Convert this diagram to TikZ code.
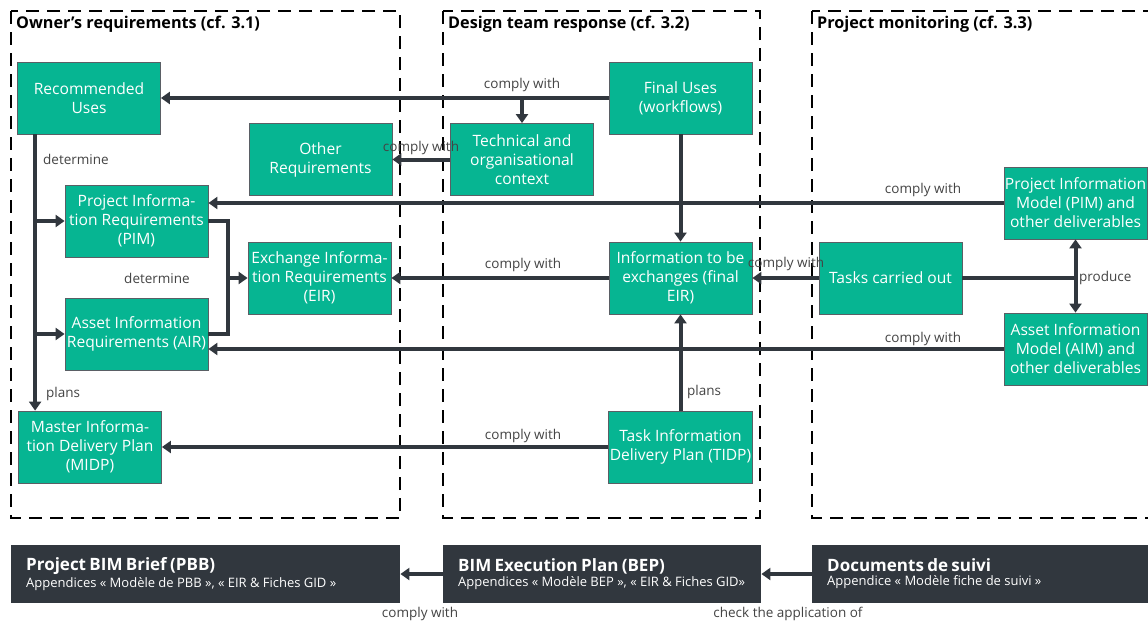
\documentclass[tikz,border=0pt]{standalone}
\usepackage{fontspec}
\setmainfont{Open Sans}
\usetikzlibrary{arrows.meta,calc}
\definecolor{gr}{HTML}{06B592}
\definecolor{dk}{HTML}{31373E}
\definecolor{lg}{HTML}{444444}
\begin{document}
\begin{tikzpicture}[x=1pt,y=-1pt,
  box/.style={draw=dk!80, fill=gr, text=white, minimum width=143pt, minimum height=72pt,
    align=center, font=\fontsize{15.6}{19}\selectfont, inner sep=1pt, line width=0.8pt},
  dbox/.style={fill=dk, text=white, minimum height=58pt, align=left, inner xsep=15pt, inner ysep=0pt, anchor=west},
  conn/.style={line width=4pt, draw=dk},
  arr/.style={conn, -{Triangle[length=9pt,width=12pt]}},
  lbl/.style={font=\fontsize{13.5}{16}\selectfont, text=lg, inner sep=1pt},
  zone/.style={draw=black, line width=2pt, dash pattern=on 13pt off 8pt},
  ztitle/.style={font=\fontsize{16.2}{18}\selectfont\bfseries, text=black, anchor=west, inner sep=0pt},
]
\clip (0,0) rectangle (1148,624);
\fill[white] (0,0) rectangle (1148,624);
% zones
\draw[zone] (11,11) rectangle (400,518);
\draw[zone] (443,11) rectangle (760,518);
\draw[zone] (812,11) rectangle (1170,518);
\node[ztitle] (t1) at (16,24) {Owner’s requirements (cf. 3.1)};
\node[ztitle] (t2) at (448,24) {Design team response (cf. 3.2)};
\node[ztitle] (t3) at (817,24) {Project monitoring (cf. 3.3)};
% green nodes
\node[box] (ru) at (89,98) {Recommended\\Uses};
\node[box] (or) at (320.5,159.5) {Other\\Requirements};
\node[box] (pir) at (136.5,221) {Project Informa-\\tion Requirements\\(PIM)};
\node[box] (eir) at (319.5,278) {Exchange Informa-\\tion Requirements\\(EIR)};
\node[box] (air) at (136.5,334) {Asset Information\\Requirements (AIR)};
\node[box] (midp) at (90,447) {Master Informa-\\tion Delivery Plan\\(MIDP)};
\node[box] (tc) at (522,159.5) {Technical and\\organisational\\context};
\node[box] (fu) at (680.5,98) {Final Uses\\(workflows)};
\node[box] (ie) at (680.5,278) {Information to be\\exchanges (final\\EIR)};
\node[box] (tidp) at (680.5,447) {Task Information\\Delivery Plan (TIDP)};
\node[box] (tasks) at (890.5,278) {Tasks carried out};
\node[box] (pimd) at (1075.5,203) {Project Information\\Model (PIM) and\\other deliverables};
\node[box] (aim) at (1075.5,349) {Asset Information\\Model (AIM) and\\other deliverables};
% connectors
\coordinate (j1) at (tc.north |- fu.west);
\draw[arr] (fu.west) -- (ru.east);
\draw[arr] (j1) -- (tc.north);
\node[lbl] (l1) at (522,85) {comply with};
\draw[arr] (tc.west) -- (or.east);
\node[lbl] (l2) at (421,148) {comply with};
\draw[arr] (fu.south) -- (ie.north);
\draw[arr] (pimd.west) -- (pimd.west -| pir.east);
\node[lbl] (l3) at (923,190) {comply with};
\draw[arr] (ie.west) -- (eir.east);
\node[lbl] (l4) at (523,265) {comply with};
\draw[arr] (tasks.west) -- (ie.east);
\node[lbl] (l5) at (786,264) {comply with};
\draw[conn] (tasks.east) -- (tasks.east -| pimd.south);
\draw[conn, {Triangle[length=9pt,width=12pt]}-{Triangle[length=9pt,width=12pt]}] (pimd.south) -- (aim.north);
\node[lbl, anchor=west] (l6) at (1078,278) {produce};
\draw[arr] (aim.west) -- (aim.west -| air.east);
\node[lbl] (l7) at (923,339) {comply with};
\draw[arr] (tidp.west) -- (midp.east);
\node[lbl] (l8) at (523,436) {comply with};
\draw[arr] (tidp.north) -- (ie.south);
\node[lbl, anchor=west] (l9) at (686,392) {plans};
% left trunk
\coordinate (tr) at ([xshift=18pt]ru.south west);
\draw[arr] (tr) -- (tr |- midp.north);
\draw[arr] (tr |- pir.west) -- (pir.west);
\draw[arr] (tr |- air.west) -- (air.west);
\node[lbl, anchor=west] (l10) at (42,159) {determine};
\node[lbl, anchor=west] (l11) at (45,394) {plans};
% collector
\coordinate (cl) at ([xshift=20pt]pir.east);
\draw[conn, line join=miter] (pir.east) -- (cl) -- (cl |- air.east) -- (air.east);
\draw[arr] (cl |- eir.west) -- (eir.west);
\node[lbl] (l12) at (157,278) {determine};
% bottom
\node[dbox, minimum width=389pt, text width=359pt] (pbb) at (11,574)
  {{\fontsize{17}{18}\selectfont\bfseries Project BIM Brief (PBB)}\\[2pt]{\fontsize{13}{15}\selectfont Appendices « Modèle de PBB », « EIR \& Fiches GID »}};
\node[dbox, minimum width=318pt, text width=288pt] (bep) at (443,574)
  {{\fontsize{17}{18}\selectfont\bfseries BIM Execution Plan (BEP)}\\[2pt]{\fontsize{13}{15}\selectfont Appendices « Modèle BEP », « EIR \& Fiches GID»}};
\node[dbox, minimum width=350pt, text width=320pt] (doc) at (812,574)
  {{\fontsize{17}{18}\selectfont\bfseries Documents de suivi}\\[2pt]{\fontsize{13}{15}\selectfont Appendice « Modèle fiche de suivi »}};
\draw[arr] (bep.west) -- (pbb.east);
\draw[arr] (doc.west) -- (bep.east);
\node[lbl] (l13) at (420,614) {comply with};
\node[lbl] (l14) at (788,614) {check the application of};
\end{tikzpicture}
\end{document}
